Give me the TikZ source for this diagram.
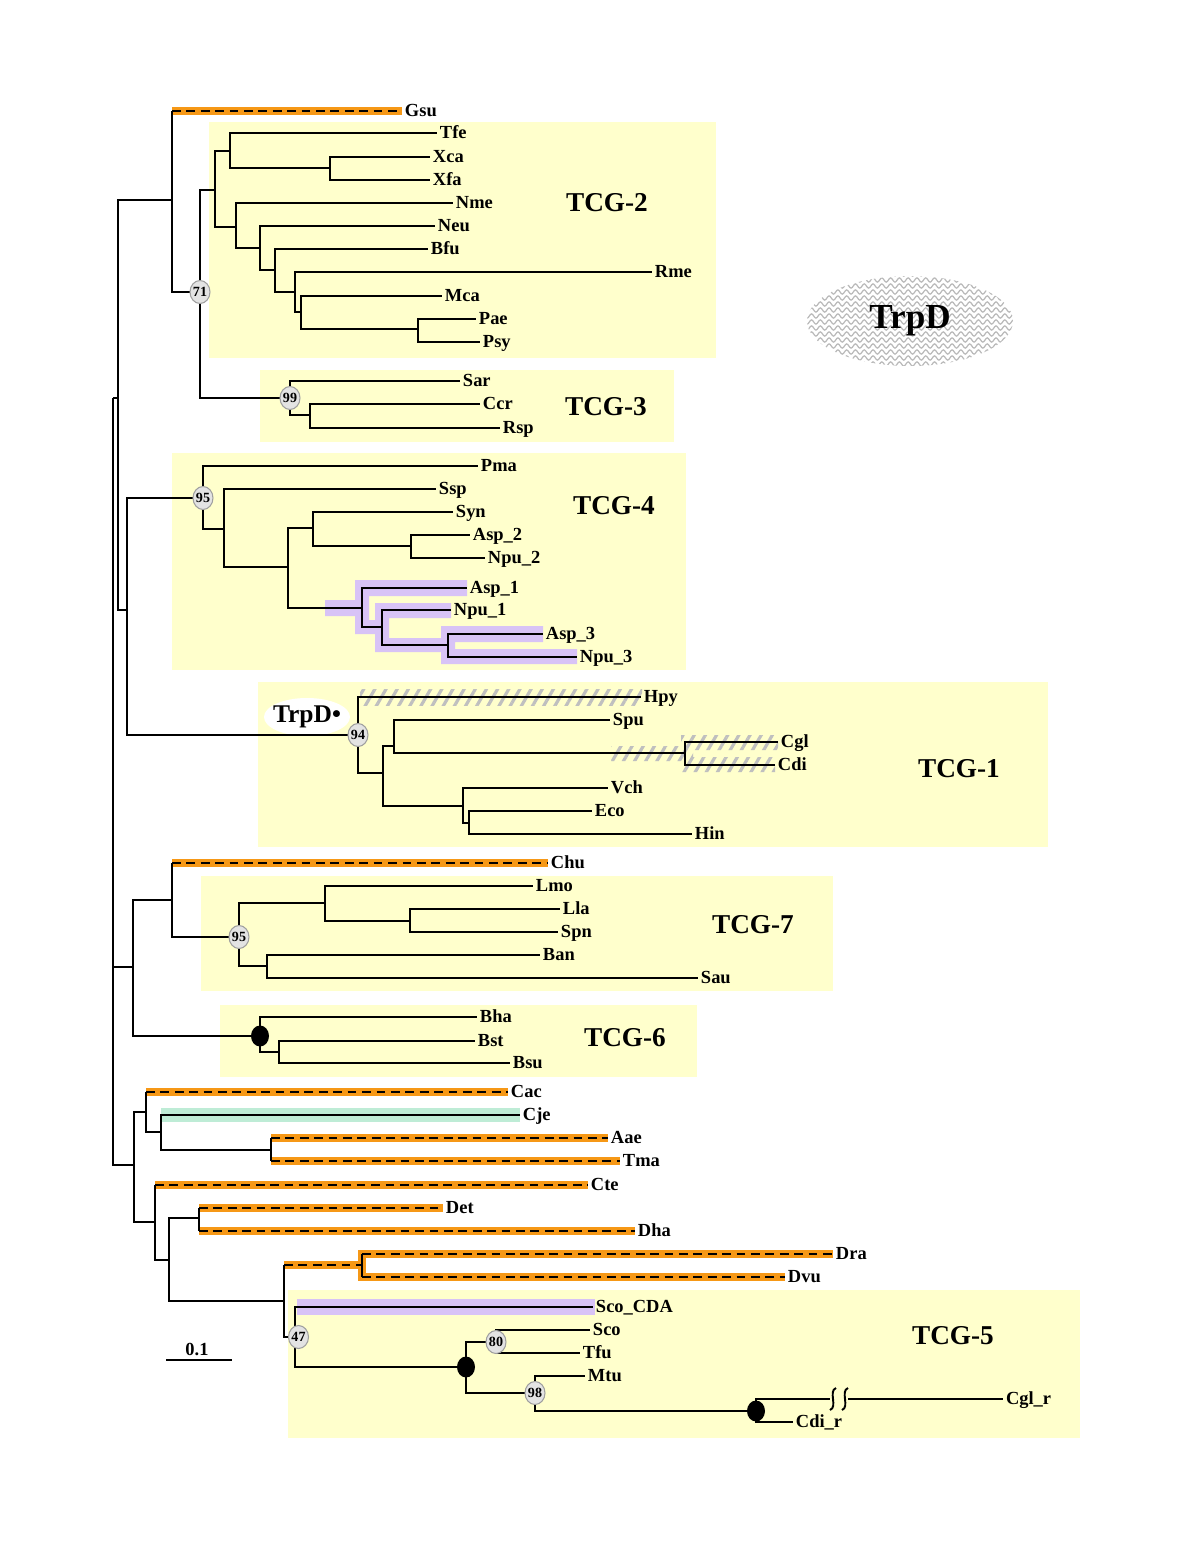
\documentclass[tikz,border=0pt]{standalone}
\usepackage{fontspec}
\setmainfont{Liberation Serif}
\usetikzlibrary{shapes.geometric,patterns,patterns.meta,decorations.pathmorphing}
\definecolor{tcgyellow}{RGB}{255,255,204}
\definecolor{hlorange}{RGB}{246,152,22}
\definecolor{hlgreen}{RGB}{190,236,214}
\definecolor{hllav}{RGB}{206,180,244}
\pgfdeclarelayer{boxes}
\pgfdeclarelayer{marks}
\pgfsetlayers{boxes,marks,main}
\tikzset{
    branch/.style={line width=1.1pt},
    dbranch/.style={line width=1.1pt, dash pattern=on 5pt off 3.2pt},
    taxon/.style={anchor=west, inner sep=1.5pt, font=\fontsize{10.5}{12}\selectfont\bfseries,
        text height=1.6ex, text depth=0.35ex},
    tcgbox/.style={fill=tcgyellow},
    tcglabel/.style={font=\fontsize{15.5}{18}\selectfont\bfseries},
    bootnode/.style={ellipse, draw=gray!75, fill=gray!22, line width=0.6pt, inner sep=0pt,
        minimum width=0.4cm, minimum height=0.46cm, font=\fontsize{8}{9}\selectfont\bfseries},
    fulldot/.style={ellipse, fill=black, inner sep=0pt, minimum width=0.36cm, minimum height=0.42cm},
    orangehl/.style={draw=hlorange, line width=4.6pt},
    greenhl/.style={draw=hlgreen, line width=8.5pt},
    cdahl/.style={fill=hllav!80!white},
    hatchhl/.style={pattern={Lines[angle=60,distance=5.5pt,line width=1.8pt]}, pattern color=gray!50},
    wavyline/.style={gray!55, line width=0.7pt, decorate,
        decoration={snake, segment length=5pt, amplitude=1.2pt}}
}

\begin{document}
\begin{tikzpicture}[x=0.02cm, y=-0.02cm]
\useasboundingbox (0,0) rectangle (1198,1551);

\coordinate (root) at (113,398);
\coordinate (nA) at (118,398);
\coordinate (nB) at (127,610);
\coordinate (nGsu) at (172,200);
\coordinate (n71) at (200,292);
\coordinate (t2) at (215,190);
\coordinate (t2a) at (230,151);
\coordinate (t2c) at (330,168);
\coordinate (t2b) at (236,227);
\coordinate (t2d) at (260,248);
\coordinate (t2e) at (275,270);
\coordinate (t2f) at (295,292);
\coordinate (t2g) at (301,312);
\coordinate (t2h) at (418,329);
\coordinate (t3) at (290,398);
\coordinate (t3i) at (310,415);
\coordinate (t4) at (203,498);
\coordinate (t4j) at (224,529);
\coordinate (t4k) at (288,567);
\coordinate (t4l) at (313,528);
\coordinate (t4n) at (411,546);
\coordinate (t4m) at (362,608);
\coordinate (t4o) at (382,627);
\coordinate (t4p) at (448,645);
\coordinate (t1) at (358,735);
\coordinate (t1q) at (383,773);
\coordinate (t1r) at (394,746);
\coordinate (t1t) at (685,753);
\coordinate (t1s) at (463,806);
\coordinate (t1u) at (469,823);
\coordinate (nD) at (133,967);
\coordinate (nChu) at (172,900);
\coordinate (t7) at (239,937);
\coordinate (t7w) at (325,903);
\coordinate (t7y) at (410,921);
\coordinate (t7x) at (267,966);
\coordinate (t6) at (260,1036);
\coordinate (t6z) at (279,1052);
\coordinate (nE) at (134,1165);
\coordinate (nF) at (146,1112);
\coordinate (nH) at (161,1132);
\coordinate (nI) at (271,1150);
\coordinate (nG) at (155,1222);
\coordinate (nJ) at (169,1260);
\coordinate (nK) at (199,1218);
\coordinate (nL) at (284,1301);
\coordinate (nM) at (362,1265);
\coordinate (t5) at (295,1337);
\coordinate (t5n) at (466,1367);
\coordinate (t5o) at (496,1342);
\coordinate (t5p) at (535,1393);
\coordinate (t5q) at (756,1411);
\coordinate (brkA) at (830,1399);
\coordinate (brkB) at (848,1399);

\node[taxon] (Gsu) at (402,111) {Gsu};
\node[taxon] (Tfe) at (437,133) {Tfe};
\node[taxon] (Xca) at (430,157) {Xca};
\node[taxon] (Xfa) at (430,180) {Xfa};
\node[taxon] (Nme) at (453,203) {Nme};
\node[taxon] (Neu) at (435,226) {Neu};
\node[taxon] (Bfu) at (428,249) {Bfu};
\node[taxon] (Rme) at (652,272) {Rme};
\node[taxon] (Mca) at (442,296) {Mca};
\node[taxon] (Pae) at (476,319) {Pae};
\node[taxon] (Psy) at (480,342) {Psy};
\node[taxon] (Sar) at (460,381) {Sar};
\node[taxon] (Ccr) at (480,404) {Ccr};
\node[taxon] (Rsp) at (500,428) {Rsp};
\node[taxon] (Pma) at (478,466) {Pma};
\node[taxon] (Ssp) at (436,489) {Ssp};
\node[taxon] (Syn) at (453,512) {Syn};
\node[taxon] (Asp2) at (470,535) {Asp\_2};
\node[taxon] (Npu2) at (485,558) {Npu\_2};
\node[taxon] (Asp1) at (467,588) {Asp\_1};
\node[taxon] (Npu1) at (451,610) {Npu\_1};
\node[taxon] (Asp3) at (543,634) {Asp\_3};
\node[taxon] (Npu3) at (577,657) {Npu\_3};
\node[taxon] (Hpy) at (641,697) {Hpy};
\node[taxon] (Spu) at (610,720) {Spu};
\node[taxon] (Cgl) at (778,742) {Cgl};
\node[taxon] (Cdi) at (775,765) {Cdi};
\node[taxon] (Vch) at (608,788) {Vch};
\node[taxon] (Eco) at (592,811) {Eco};
\node[taxon] (Hin) at (692,834) {Hin};
\node[taxon] (Chu) at (548,863) {Chu};
\node[taxon] (Lmo) at (533,886) {Lmo};
\node[taxon] (Lla) at (560,909) {Lla};
\node[taxon] (Spn) at (558,932) {Spn};
\node[taxon] (Ban) at (540,955) {Ban};
\node[taxon] (Sau) at (698,978) {Sau};
\node[taxon] (Bha) at (477,1017) {Bha};
\node[taxon] (Bst) at (475,1041) {Bst};
\node[taxon] (Bsu) at (510,1063) {Bsu};
\node[taxon] (Cac) at (508,1092) {Cac};
\node[taxon] (Cje) at (520,1115) {Cje};
\node[taxon] (Aae) at (608,1138) {Aae};
\node[taxon] (Tma) at (620,1161) {Tma};
\node[taxon] (Cte) at (588,1185) {Cte};
\node[taxon] (Det) at (443,1208) {Det};
\node[taxon] (Dha) at (635,1231) {Dha};
\node[taxon] (Dra) at (833,1254) {Dra};
\node[taxon] (Dvu) at (785,1277) {Dvu};
\node[taxon] (ScoCDA) at (593,1307) {Sco\_CDA};
\node[taxon] (Sco) at (590,1330) {Sco};
\node[taxon] (Tfu) at (580,1353) {Tfu};
\node[taxon] (Mtu) at (585,1376) {Mtu};
\node[taxon] (Cglr) at (1003,1399) {Cgl\_r};
\node[taxon] (Cdir) at (793,1422) {Cdi\_r};

\begin{pgfonlayer}{boxes}
\fill[tcgbox] (209,122) rectangle (716,358);
\fill[tcgbox] (260,370) rectangle (674,442);
\fill[tcgbox] (172,453) rectangle (686,670);
\fill[tcgbox] (258,682) rectangle (1048,847);
\fill[tcgbox] (201,876) rectangle (833,991);
\fill[tcgbox] (220,1005) rectangle (697,1077);
\fill[tcgbox] (288,1290) rectangle (1080,1438);
\end{pgfonlayer}

\begin{pgfonlayer}{marks}
\draw[orangehl] (nGsu |- Gsu.west) -- (Gsu.west);
\draw[orangehl] (nChu |- Chu.west) -- (Chu.west);
\draw[orangehl] (nF |- Cac.west) -- (Cac.west);
\draw[orangehl] (nI |- Aae.west) -- (Aae.west) (nI |- Tma.west) -- (Tma.west);
\draw[orangehl] (nG |- Cte.west) -- (Cte.west);
\draw[orangehl] (nK |- Det.west) -- (Det.west) (nK |- Dha.west) -- (Dha.west);
\draw[orangehl] (nL |- nM) -- (nM);
\draw[orangehl] (Dra.west) -- (nM |- Dra.west) -- (nM |- Dvu.west) -- (Dvu.west);
\draw[greenhl] (nH |- Cje.west) -- (Cje.west);
\fill[cdahl] (325,600) rectangle (369,616) (355,580) rectangle (369,634)
    (355,580) rectangle (467,596) (362,620) rectangle (389,634)
    (375,603) rectangle (389,652) (375,603) rectangle (451,618)
    (382,638) rectangle (455,652) (441,626) rectangle (455,664)
    (441,626) rectangle (543,642) (441,649) rectangle (577,664);
\fill[cdahl] (297,1299) rectangle (595,1315);
\fill[hatchhl] (360,689) rectangle (642,705);
\fill[hatchhl] (611,746) rectangle (690,761) (681,735) rectangle (693,772)
    (681,735) rectangle (778,750) (681,757) rectangle (775,772);
\end{pgfonlayer}

\begin{scope}
\clip (910,321) ellipse [x radius=103, y radius=45];
\foreach \yy in {274,280,...,370}
    \draw[wavyline] (800,\yy) -- (1020,\yy);
\end{scope}
\node[font=\fontsize{20}{24}\selectfont\bfseries] (trpdbig) at (910,321) {TrpD};

\fill[white] (307,717) ellipse [x radius=43, y radius=19];
\node[font=\fontsize{14.5}{16}\selectfont\bfseries, inner sep=0pt] (trpdmark) at (307,717) {TrpD\textbullet};

\node[tcglabel] (tcg2) at (607,203) {TCG-2};
\node[tcglabel] (tcg3) at (606,407) {TCG-3};
\node[tcglabel] (tcg4) at (614,506) {TCG-4};
\node[tcglabel] (tcg1) at (959,769) {TCG-1};
\node[tcglabel] (tcg7) at (753,925) {TCG-7};
\node[tcglabel] (tcg6) at (625,1038) {TCG-6};
\node[tcglabel] (tcg5) at (953,1336) {TCG-5};

\draw[branch] (root) |- (nA) (root) |- (nD) (root) |- (nE);
\draw[branch] (nA) |- (nGsu) (nA) |- (nB);
\draw[branch] (nGsu) -- (nGsu |- Gsu.west) (nGsu) |- (n71);
\draw[dbranch] (nGsu |- Gsu.west) -- (Gsu.west);
\draw[branch] (n71) |- (t2) (n71) |- (t3);
\draw[branch] (t2) |- (t2a) (t2) |- (t2b);
\draw[branch] (t2a) |- (Tfe.west) (t2a) |- (t2c);
\draw[branch] (t2c) |- (Xca.west) (t2c) |- (Xfa.west);
\draw[branch] (t2b) |- (Nme.west) (t2b) |- (t2d);
\draw[branch] (t2d) |- (Neu.west) (t2d) |- (t2e);
\draw[branch] (t2e) |- (Bfu.west) (t2e) |- (t2f);
\draw[branch] (t2f) |- (Rme.west) (t2f) |- (t2g);
\draw[branch] (t2g) |- (Mca.west) (t2g) |- (t2h);
\draw[branch] (t2h) |- (Pae.west) (t2h) |- (Psy.west);
\draw[branch] (t3) |- (Sar.west) (t3) |- (t3i);
\draw[branch] (t3i) |- (Ccr.west) (t3i) |- (Rsp.west);

\draw[branch] (nB) |- (t4) (nB) |- (t1);
\draw[branch] (t4) |- (Pma.west) (t4) |- (t4j);
\draw[branch] (t4j) |- (Ssp.west) (t4j) |- (t4k);
\draw[branch] (t4k) |- (t4l) (t4k) |- (t4m);
\draw[branch] (t4l) |- (Syn.west) (t4l) |- (t4n);
\draw[branch] (t4n) |- (Asp2.west) (t4n) |- (Npu2.west);
\draw[branch] (t4m) |- (Asp1.west) (t4m) |- (t4o);
\draw[branch] (t4o) |- (Npu1.west) (t4o) |- (t4p);
\draw[branch] (t4p) |- (Asp3.west) (t4p) |- (Npu3.west);

\draw[branch] (t1) |- (Hpy.west) (t1) |- (t1q);
\draw[branch] (t1q) |- (t1r) (t1q) |- (t1s);
\draw[branch] (t1r) |- (Spu.west) (t1r) |- (t1t);
\draw[branch] (t1t) |- (Cgl.west) (t1t) |- (Cdi.west);
\draw[branch] (t1s) |- (Vch.west) (t1s) |- (t1u);
\draw[branch] (t1u) |- (Eco.west) (t1u) |- (Hin.west);

\draw[branch] (nD) |- (nChu) (nD) |- (t6);
\draw[branch] (nChu) -- (nChu |- Chu.west) (nChu) |- (t7);
\draw[dbranch] (nChu |- Chu.west) -- (Chu.west);
\draw[branch] (t7) |- (t7w) (t7) |- (t7x);
\draw[branch] (t7w) |- (Lmo.west) (t7w) |- (t7y);
\draw[branch] (t7y) |- (Lla.west) (t7y) |- (Spn.west);
\draw[branch] (t7x) |- (Ban.west) (t7x) |- (Sau.west);
\draw[branch] (t6) |- (Bha.west) (t6) |- (t6z);
\draw[branch] (t6z) |- (Bst.west) (t6z) |- (Bsu.west);

\draw[branch] (nE) |- (nF) (nE) |- (nG);
\draw[branch] (nF) -- (nF |- Cac.west) (nF) |- (nH);
\draw[dbranch] (nF |- Cac.west) -- (Cac.west);
\draw[branch] (nH) |- (Cje.west) (nH) |- (nI);
\draw[branch] (nI |- Aae.west) -- (nI |- Tma.west);
\draw[dbranch] (nI |- Aae.west) -- (Aae.west) (nI |- Tma.west) -- (Tma.west);
\draw[branch] (nG) -- (nG |- Cte.west) (nG) |- (nJ);
\draw[dbranch] (nG |- Cte.west) -- (Cte.west);
\draw[branch] (nJ) |- (nK) (nJ) |- (nL);
\draw[branch] (nK |- Det.west) -- (nK |- Dha.west);
\draw[dbranch] (nK |- Det.west) -- (Det.west) (nK |- Dha.west) -- (Dha.west);
\draw[branch] (nL) -- (nL |- nM) (nL) |- (t5);
\draw[dbranch] (nL |- nM) -- (nM);
\draw[branch] (nM |- Dra.west) -- (nM |- Dvu.west);
\draw[dbranch] (nM |- Dra.west) -- (Dra.west) (nM |- Dvu.west) -- (Dvu.west);
\draw[branch] (t5) |- (ScoCDA.west) (t5) |- (t5n);
\draw[branch] (t5n) |- (t5o) (t5n) |- (t5p);
\draw[branch] (t5o) |- (Sco.west) (t5o) |- (Tfu.west);
\draw[branch] (t5p) |- (Mtu.west) (t5p) |- (t5q);
\draw[branch] (t5q) |- (brkA) (t5q) |- (Cdir.west);
\draw[branch] (brkB) -- (Cglr.west);
\draw[branch] (836,1388) .. controls (828,1391) and (838,1407) .. (830,1410);
\draw[branch] (848,1388) .. controls (840,1391) and (850,1407) .. (842,1410);

\node[bootnode] (bs71) at (n71) {71};
\node[bootnode] (bs99) at (t3) {99};
\node[bootnode] (bs95a) at (t4) {95};
\node[bootnode] (bs94) at (t1) {94};
\node[bootnode] (bs95b) at (t7) {95};
\node[bootnode] (bs47) at ([xshift=2]t5) {47};
\node[bootnode] (bs80) at (t5o) {80};
\node[bootnode] (bs98) at (t5p) {98};
\node[fulldot] (dot6) at (t6) {};
\node[fulldot] (dot5n) at (t5n) {};
\node[fulldot] (dot5q) at (t5q) {};

\node[font=\fontsize{10.5}{12}\selectfont\bfseries] (scaletxt) at (197,1349) {0.1};
\coordinate (scaleL) at (166,1360);
\coordinate (scaleR) at (232,1360);
\draw[branch] (scaleL) -- (scaleR);
\end{tikzpicture}
\end{document}
